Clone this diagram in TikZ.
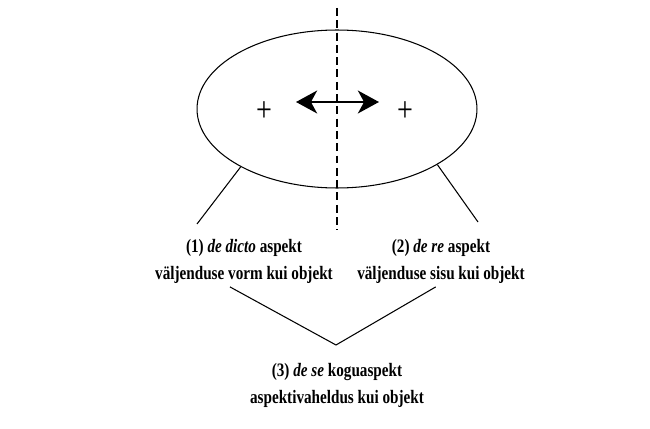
\documentclass[tikz,border=0pt]{standalone}
\usepackage{fontspec}
\setmainfont[FakeStretch=0.8]{Liberation Serif}
\usepackage{tikz}
\usetikzlibrary{arrows.meta,positioning,shapes.geometric}

\begin{document}
\begin{tikzpicture}[x=0.02cm,y=-0.02cm,
  label/.style={align=center,font=\fontsize{10.8}{15.3}\selectfont\bfseries,inner sep=2pt},
  thin line/.style={line width=0.6pt},
  plus/.style={font=\fontsize{20}{20}\selectfont,inner sep=0pt},
  node distance=3.5mm
]
\useasboundingbox (0,0) rectangle (650,429);
\node[draw,thin line,ellipse,minimum width=5.6cm,minimum height=3.16cm,inner sep=0pt] (ell) at (337,109) {};
\draw[line width=1.1pt,dash pattern=on 4.5pt off 2.5pt] (337,8) coordinate (axtop) -- (337,230) coordinate (axbot);
\node[plus] (lplus) at (264,112) {+};
\node[plus] (rplus) at (405,112) {+};
\coordinate (arrl) at (296,102);
\coordinate (arrr) at (379,102);
\draw[line width=1.4pt,{Stealth[length=12pt,width=13pt,inset=3.5pt]}-{Stealth[length=12pt,width=13pt,inset=3.5pt]}] (arrl) -- (arrr);

\node[label] (dicto) at (244,261) {(1) \textit{de dicto} aspekt\\väljenduse vorm kui objekt};
\node[label] (dere) at (441,261) {(2) \textit{de re} aspekt\\väljenduse sisu kui objekt};
\node[label] (dese) at (337,385) {(3) \textit{de se} koguaspekt\\aspektivaheldus kui objekt};

\coordinate (lfoot) at (197,224);
\coordinate (rfoot) at (478,222);
\coordinate (vtip) at (336,345);
\draw[thin line] (ell.211) -- (lfoot);
\draw[thin line] (ell.-29) -- (rfoot);
\draw[thin line] ([xshift=-8]dicto.south) -- (vtip) -- ([xshift=-3]dere.south);
\end{tikzpicture}
\end{document}
